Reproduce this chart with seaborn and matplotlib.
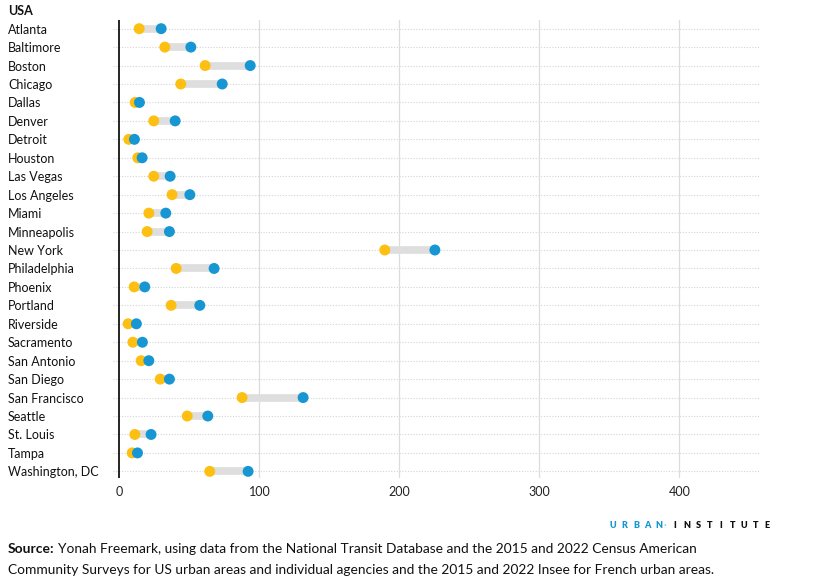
import numpy as np
import pandas as pd
import matplotlib
matplotlib.use("Agg")
import matplotlib.pyplot as plt
import seaborn as sns

cities = ["Atlanta", "Baltimore", "Boston", "Chicago", "Dallas", "Denver", "Detroit",
          "Houston", "Las Vegas", "Los Angeles", "Miami", "Minneapolis", "New York",
          "Philadelphia", "Phoenix", "Portland", "Riverside", "Sacramento", "San Antonio",
          "San Diego", "San Francisco", "Seattle", "St. Louis", "Tampa", "Washington, DC"]
yellow_vals = [14.1, 32.4, 61.2, 43.8, 11.2, 24.5, 6.7, 13.1, 24.5, 37.6, 21.0, 19.8, 189.5,
               40.5, 10.5, 36.9, 6.2, 9.6, 15.5, 29.1, 87.6, 48.4, 11.0, 9.1, 64.5]
blue_vals = [29.8, 51.0, 93.4, 73.4, 14.3, 39.8, 10.7, 16.2, 36.2, 50.3, 33.1, 35.7, 225.3,
             67.6, 18.1, 57.4, 12.1, 16.4, 21.0, 35.7, 131.2, 63.1, 22.6, 12.9, 91.9]
x_ticks = [0, 100, 200, 300, 400]

YELLOW = "#fdbf11"
BLUE = "#1696d2"

sns.set_theme(style="white")
plt.rcParams['font.family'] = ['Lato', 'DejaVu Sans']

n = len(cities)
pos = np.arange(n)
df = pd.DataFrame({"city": cities, "pos": pos, "yellow": yellow_vals, "blue": blue_vals})
long = df.melt(id_vars=["city", "pos"], value_vars=["yellow", "blue"],
               var_name="series", value_name="value")

W, H = 816, 588
fig = plt.figure(figsize=(W / 100, H / 100), dpi=100)
ax = fig.add_axes([113 / W, (H - 478) / H, (760 - 113) / W, 458 / H])

# connectors
ax.hlines(df["pos"], df["yellow"], df["blue"], color="#dedede", lw=5.5, zorder=2)

sns.scatterplot(data=long, x="value", y="pos", hue="series",
                palette={"yellow": YELLOW, "blue": BLUE}, s=62, linewidth=0,
                legend=False, ax=ax, zorder=3)

ax.set_xlim(-4.6, 457.5)
ax.set_ylim(n - 1 + 0.36, -0.47)

# grid
for xv in x_ticks[1:]:
    ax.axvline(xv, color="#dcdcdc", lw=0.9, zorder=1)
for p in pos:
    ax.axhline(p, color="#d4d4d4", lw=0.8, ls=(0, (1, 1.5)), zorder=0.5)
ax.axvline(0, color="black", lw=1.2, zorder=1.5)

for s in ax.spines.values():
    s.set_visible(False)

ax.set_xticks(x_ticks)
ax.set_xticklabels([str(t) for t in x_ticks])
ax.set_yticks(pos)
ax.set_yticklabels(cities)
ax.tick_params(axis="x", length=0, pad=6, labelsize=9, labelcolor="#222222")
ax.tick_params(axis="y", length=0, pad=(113 - 8) * 0.72, labelsize=9, labelcolor="#111111")
for lbl in ax.get_yticklabels():
    lbl.set_horizontalalignment("left")
ax.set_xlabel("")
ax.set_ylabel("")

fig.text(8 / W, 1 - 11 / H, "USA", fontsize=9, fontweight="bold", va="center", ha="left",
         color="#111111")

# logo: letter-spaced wordmark
logo_y = 1 - 525 / H
pitch = 11.5
for i, ch in enumerate("URBAN"):
    fig.text((613 + i * pitch) / W, logo_y, ch, fontsize=6.5, fontweight="heavy",
             color=BLUE, va="center", ha="center")
fig.text(665 / W, logo_y, "·", fontsize=7, fontweight="bold",
         color="#9cc9e4", va="center", ha="center")
for i, ch in enumerate("INSTITUTE"):
    fig.text((675 + i * pitch) / W, logo_y, ch, fontsize=6.5, fontweight="heavy",
             color="#111111", va="center", ha="center")

# source
fig.canvas.draw()
r = fig.canvas.get_renderer()
t1 = fig.text(8 / W, 1 - 549 / H, "Source:", fontsize=10, fontweight="bold",
              va="center", ha="left", color="#111111")
bb = t1.get_window_extent(renderer=r)
fig.text((bb.x1 + 3) / W, 1 - 549 / H,
         "Yonah Freemark, using data from the National Transit Database and the 2015 and 2022 Census American",
         fontsize=9.9, va="center", ha="left", color="#111111")
fig.text(8 / W, 1 - 570 / H,
         "Community Surveys for US urban areas and individual agencies and the 2015 and 2022 Insee for French urban areas.",
         fontsize=9.9, va="center", ha="left", color="#111111")

fig.savefig("out.png", dpi=100)
